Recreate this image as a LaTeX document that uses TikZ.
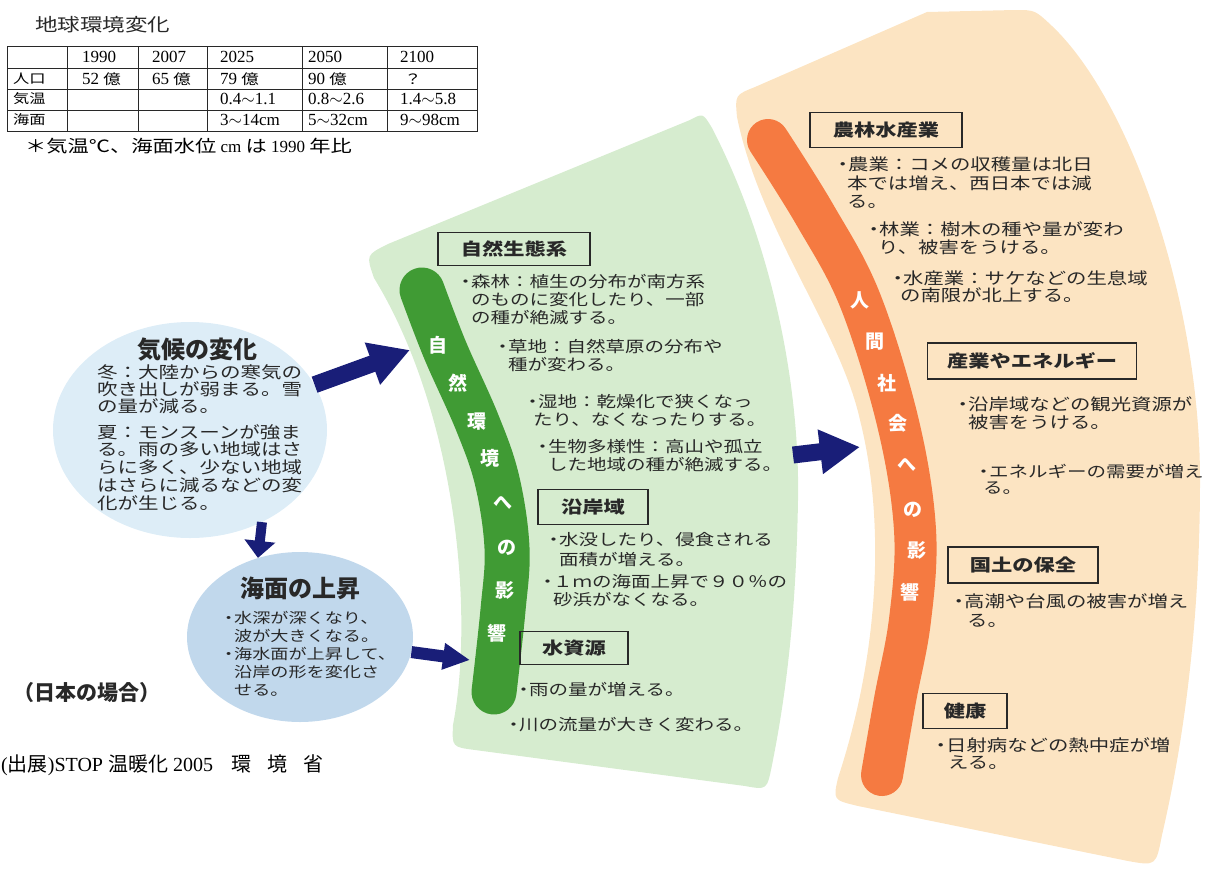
\documentclass[tikz,border=0pt]{standalone}
\usepackage{fontspec}
\setmainfont{Liberation Serif}
\newfontfamily\cjk{Noto Sans CJK JP}
\newfontfamily\cjkw[FakeStretch=1.25]{Noto Sans CJK JP}
\usetikzlibrary{shapes.geometric,arrows.meta}
\definecolor{natbg}{RGB}{214,236,207}
\definecolor{natbar}{RGB}{64,155,52}
\definecolor{humbg}{RGB}{252,228,194}
\definecolor{humbar}{RGB}{245,122,65}
\definecolor{climbg}{RGB}{221,237,247}
\definecolor{seabg}{RGB}{193,216,236}
\definecolor{arrowblue}{RGB}{25,30,120}
\definecolor{inkgray}{RGB}{40,40,40}
\newcommand{\itemdot}{\makebox[11pt][c]{・}}

\begin{document}
\begin{tikzpicture}[x=1pt,y=-1pt,
  bigarrow/.style={draw=arrowblue,line width=17pt,-{Triangle[length=40pt,width=42pt]}},
  midarrow/.style={draw=arrowblue,line width=12pt,-{Triangle[length=27pt,width=25pt]}},
  smallarrow/.style={draw=arrowblue,line width=10pt,-{Triangle[length=17pt,width=30pt]}},
  blob/.style={ellipse,inner sep=0pt},
  headbox/.style={draw=inkgray,line width=1.2pt,inner sep=0pt,text=inkgray,font=\fontsize{17}{17}\cjkw\bfseries},
  body/.style={anchor=north west,inner sep=0pt,align=left,text=inkgray},
  bartext/.style={inner sep=0pt,text=white,font=\fontsize{19}{19}\cjk\bfseries},
  cell/.style={anchor=west,inner sep=0pt,font=\fontsize{17}{17}\selectfont},
  tabline/.style={draw=inkgray,line width=0.8pt}]
\useasboundingbox (0,0) rectangle (1207,873);

\fill[humbg] (737,117) .. controls (735,95) .. (755,87) -- (927,12) -- (1015,10)
  .. controls (1035,10) .. (1052,26) .. controls (1130,100) and (1200,300) .. (1200,480)
  .. controls (1200,650) and (1177,770) .. (1162,835) .. controls (1156,866) .. (1128,861)
  -- (858,806) .. controls (833,800) .. (838,778) .. controls (880,650) and (885,520) .. (860,420)
  .. controls (840,330) and (760,230) .. (737,117) -- cycle;
\fill[natbg] (374,278) .. controls (366,255) .. (388,244) -- (690,120) .. controls (703,113) .. (712,128)
  .. controls (770,240) and (800,380) .. (798,500) .. controls (796,620) and (785,700) .. (772,765)
  .. controls (767,790) .. (745,786) -- (475,750) .. controls (452,747) .. (453,725)
  .. controls (475,610) and (455,410) .. (374,278) -- cycle;
\draw[natbar,line width=45pt,line cap=round] plot[smooth,tension=0.6] coordinates
  {(422,290) (445,350) (477,422) (497,480) (507,548) (503,610) (494,692)};
\draw[humbar,line width=42pt,line cap=round] plot[smooth,tension=0.6] coordinates
  {(768,140) (815,215) (860,300) (898,423) (915,530) (910,620) (895,700) (882,775)};

\foreach \ch/\px/\py [count=\i] in {自/438/345,然/458/383,環/477/422,境/490/458,へ/503/503,の/507/548,影/505/590,響/497/633}
  \node[bartext] (natch\i) at (\px,\py) {\ch};
\foreach \ch/\px/\py [count=\i] in {人/860/300,間/875/342,社/887/383,会/898/423,へ/907/465,の/913/510,影/917/550,響/910/592}
  \node[bartext] (humch\i) at (\px,\py) {\ch};

\node[anchor=west,inner sep=0pt,text=inkgray,font=\fontsize{18}{18}\cjkw] (title) at (35,25) {地球環境変化};
\draw[tabline] (7,46) rectangle (477,131);
\foreach \ty in {68,89,110} \draw[tabline] (7,\ty) -- (477,\ty);
\foreach \tx in {67,138,207,302,387} \draw[tabline] (\tx,46) -- (\tx,131);
\foreach \tx/\tv [count=\i] in {82/1990,152/2007,220/2025,308/2050,400/2100}
  \node[cell] (year\i) at (\tx,57) {\tv};
\foreach \ty/\tv [count=\i] in {79/人口,99/気温,120/海面}
  \node[cell,font=\fontsize{13}{13}\cjkw] (rowlab\i) at (13,\ty) {\tv};
\foreach \tx/\tv [count=\i] in {82/52,152/65,220/79,308/90}
  \node[cell] (pop\i) at (\tx,79) {\tv\ {\fontsize{14}{14}\cjkw 億}};
\node[cell,font=\fontsize{14}{14}\cjkw] (pop5) at (404,79) {？};
\foreach \tx/\tv [count=\i] in {220/0.4$\sim$1.1,308/0.8$\sim$2.6,400/1.4$\sim$5.8}
  \node[cell] (temp\i) at (\tx,99) {\tv};
\foreach \tx/\tv [count=\i] in {220/3$\sim$14cm,308/5$\sim$32cm,400/9$\sim$98cm}
  \node[cell] (sea\i) at (\tx,120) {\tv};
\node[cell,font=\fontsize{17}{17}\selectfont] (note) at (25,146)
  {{\cjkw ＊気温℃、海面水位} cm {\cjkw は} 1990 {\cjkw 年比}};

\node[blob,fill=climbg,minimum width=274pt,minimum height=216pt] (climate) at (190,430) {};
\node[blob,fill=seabg,minimum width=226pt,minimum height=170pt] (sealevel) at (300,637) {};

\coordinate (natin) at (410,350);
\coordinate (natin2) at (470,660);
\coordinate (natout) at (793,455);
\coordinate (humin) at (860,447);
\draw[bigarrow] (climate) -- (natin);
\draw[midarrow] (sealevel) -- (natin2);
\draw[bigarrow] (natout) -- (humin);
\draw[smallarrow] (climate.-52) -- (sealevel.118);

\node[inner sep=0pt,text=inkgray,font=\fontsize{24}{24}\cjk\bfseries] (climhead) at (197,350) {気候の変化};
\node[body,font=\fontsize{16.4}{17}\cjkw] (winter) at (97,364) {冬：大陸からの寒気の\\吹き出しが弱まる。雪\\の量が減る。};
\node[body,font=\fontsize{16.4}{17.8}\cjkw] (summer) at (97,424) {夏：モンスーンが強ま\\る。雨の多い地域はさ\\らに多く、少ない地域\\はさらに減るなどの変\\化が生じる。};
\node[inner sep=0pt,text=inkgray,font=\fontsize{24}{24}\cjk\bfseries] (seahead) at (300,588) {海面の上昇};
\node[body,font=\fontsize{14.5}{18}\cjkw] (seatext) at (223,611)
  {\itemdot 水深が深くなり、\\\hspace*{11pt}波が大きくなる。\\\itemdot 海水面が上昇して、\\\hspace*{11pt}沿岸の形を変化さ\\\hspace*{11pt}せる。};
\node[inkgray,font=\fontsize{21}{21}\cjk\bfseries] (japan) at (87,693) {（日本の場合）};
\node[anchor=west,inner sep=0pt,font=\fontsize{20}{20}\selectfont] (source) at (1,765)
  {({\cjk 出展})STOP {\cjk 温暖化} 2005\hspace{18pt}{\cjk 環}\hspace{16pt}{\cjk 境}\hspace{16pt}{\cjk 省}};

\node[headbox,minimum width=152pt,minimum height=33pt] (natbox1) at (514,249) {自然生態系};
\node[headbox,minimum width=110pt,minimum height=35pt] (natbox2) at (593,507) {沿岸域};
\node[headbox,minimum width=108pt,minimum height=33pt] (natbox3) at (574,648) {水資源};
\node[body,font=\fontsize{15.6}{18}\cjkw] (natforest) at (460,274) {\itemdot 森林：植生の分布が南方系\\\hspace*{11pt}のものに変化したり、一部\\\hspace*{11pt}の種が絶滅する。};
\node[body,font=\fontsize{15.6}{18}\cjkw] (natgrass) at (497,339) {\itemdot 草地：自然草原の分布や\\\hspace*{11pt}種が変わる。};
\node[body,font=\fontsize{15.6}{18}\cjkw] (natwet) at (527,394) {\itemdot 湿地：乾燥化で狭くなっ\\\hspace*{6pt}たり、なくなったりする。};
\node[body,font=\fontsize{15.6}{18}\cjkw] (natbio) at (537,439) {\itemdot 生物多様性：高山や孤立\\\hspace*{11pt}した地域の種が絶滅する。};
\node[body,font=\fontsize{15.6}{20}\cjkw] (natsink) at (548,532) {\itemdot 水没したり、侵食される\\\hspace*{11pt}面積が増える。};
\node[body,font=\fontsize{15.6}{18}\cjkw] (natbeach) at (542,574) {\itemdot １ｍの海面上昇で９０％の\\\hspace*{11pt}砂浜がなくなる。};
\node[body,font=\fontsize{15.6}{18}\cjkw] (natrain) at (518,682) {\itemdot 雨の量が増える。};
\node[body,font=\fontsize{15.6}{18}\cjkw] (natriver) at (508,717) {\itemdot 川の流量が大きく変わる。};

\node[headbox,minimum width=152pt,minimum height=35pt] (humbox1) at (886,130) {農林水産業};
\node[headbox,minimum width=209pt,minimum height=36pt] (humbox2) at (1032,361) {産業やエネルギー};
\node[headbox,minimum width=150pt,minimum height=36pt] (humbox3) at (1023,565) {国土の保全};
\node[headbox,minimum width=84pt,minimum height=35pt] (humbox4) at (965,711) {健康};
\node[body,font=\fontsize{16.3}{18.5}\cjkw] (humagri) at (837,157) {\itemdot 農業：コメの収穫量は北日\\\hspace*{10pt}本では増え、西日本では減\\\hspace*{10pt}る。};
\node[body,font=\fontsize{16.3}{17.5}\cjkw] (humforest) at (868,222) {\itemdot 林業：樹木の種や量が変わ\\\hspace*{10pt}り、被害をうける。};
\node[body,font=\fontsize{16.3}{17.5}\cjkw] (humfish) at (892,270) {\itemdot 水産業：サケなどの生息域\\\hspace*{8pt}の南限が北上する。};
\node[body,font=\fontsize{16.3}{17.5}\cjkw] (humtour) at (957,397) {\itemdot 沿岸域などの観光資源が\\\hspace*{11pt}被害をうける。};
\node[body,font=\fontsize{15.6}{16}\cjkw] (humenergy) at (978,464) {\itemdot エネルギーの需要が増え\\\hspace*{5pt}る。};
\node[body,font=\fontsize{16.3}{18}\cjkw] (humsurge) at (953,594) {\itemdot 高潮や台風の被害が増え\\\hspace*{14pt}る。};
\node[body,font=\fontsize{16.3}{17.5}\cjkw] (humheat) at (935,737) {\itemdot 日射病などの熱中症が増\\\hspace*{13pt}える。};
\end{tikzpicture}
\end{document}
